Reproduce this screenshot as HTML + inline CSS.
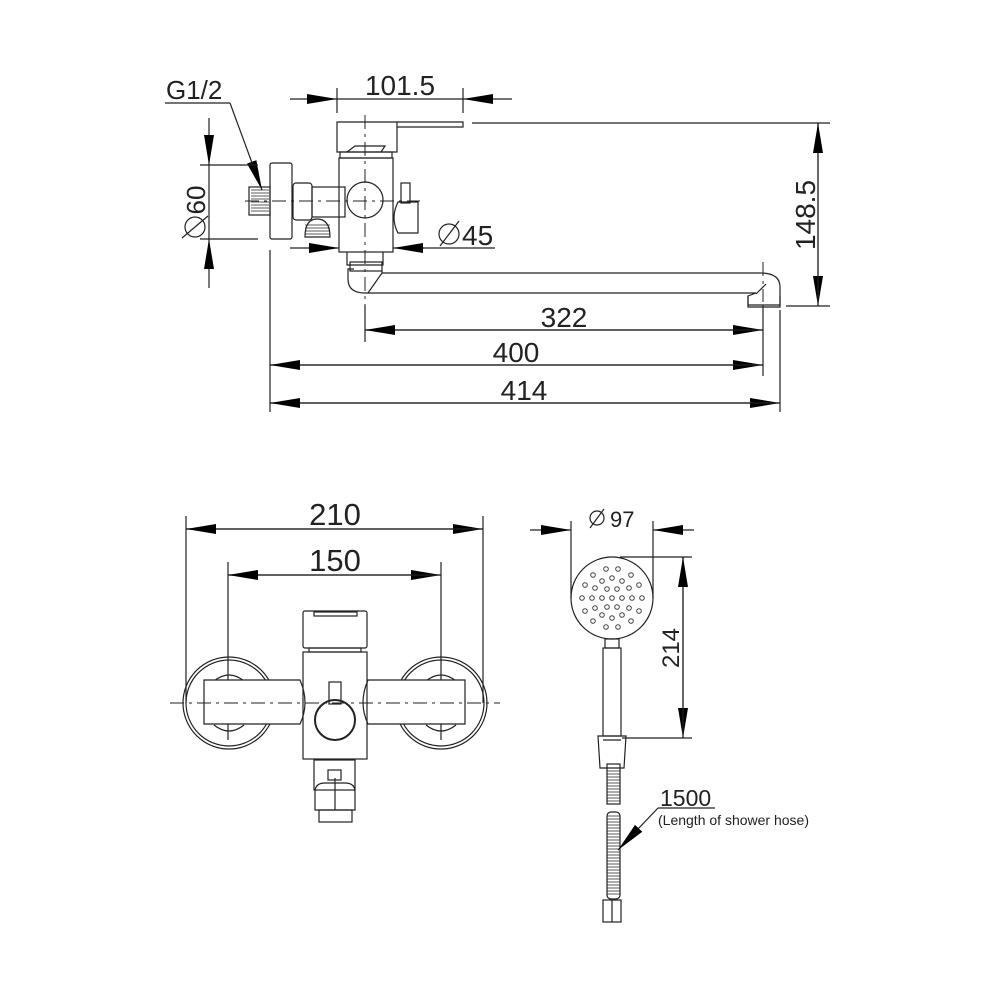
<!DOCTYPE html>
<html><head><meta charset="utf-8"><style>
html,body{margin:0;padding:0;background:#fff}
svg{display:block}
text{font-family:"Liberation Sans",sans-serif;fill:#222}
</style></head><body>
<svg width="1000" height="1000" viewBox="0 0 1000 1000" xmlns="http://www.w3.org/2000/svg">
<defs>
<marker id="a" viewBox="0 0 30 10" refX="30" refY="5" markerWidth="30" markerHeight="10" markerUnits="userSpaceOnUse" orient="auto"><path d="M0,0 L30,5 L0,10 z" fill="#000"/></marker>
</defs>
<g stroke="#222" stroke-width="1.2" fill="none">
<line x1="337" y1="88" x2="337" y2="113"/><line x1="463" y1="88" x2="463" y2="113"/>
<line x1="290" y1="99" x2="337" y2="99" marker-end="url(#a)"/>
<line x1="512" y1="99" x2="463" y2="99" marker-end="url(#a)"/>
<line x1="337" y1="99" x2="463" y2="99"/>
<line x1="165" y1="103" x2="230" y2="103"/>
<line x1="230" y1="103" x2="262" y2="190" marker-end="url(#a)"/>
<line x1="200" y1="165" x2="258" y2="165"/><line x1="200" y1="239" x2="258" y2="239"/>
<line x1="209" y1="118" x2="209" y2="165" marker-end="url(#a)"/>
<line x1="209" y1="288" x2="209" y2="239" marker-end="url(#a)"/>
<line x1="209" y1="165" x2="209" y2="239"/>
<circle cx="195" cy="227" r="10"/><line x1="182" y1="238" x2="208" y2="216"/>
<rect x="270" y="163" width="22" height="76" rx="2"/>
<rect x="249" y="187" width="21" height="28"/>
<g stroke-width="0.8"><path d="M251,190h18M251,193h18M251,196h18M251,199h18M251,202h18M251,205h18M251,208h18M251,211h18"/></g>
<rect x="293" y="183" width="19" height="37" rx="3"/>
<rect x="312" y="187" width="33" height="30"/>
<path d="M305,237 q0,-18 12,-18 q13,0 13,18 z"/>
<g stroke-width="0.8"><path d="M305,225h25M305,228h25M305,231h25M305,234h25"/></g>
<rect x="339" y="158" width="54" height="94"/>
<circle cx="365" cy="200" r="18"/>
<rect x="401" y="183" width="9" height="20"/>
<path d="M398,202 h20 v31 h-20 q-8,-15 0,-31 z"/>
<path d="M337,122 h60 v30 h-60 z"/>
<path d="M397,122 h66 v5 h-66"/>
<path d="M347,152 l8,-6 h30 l-4,6"/>
<rect x="340" y="152" width="52" height="6"/>
<line x1="290" y1="248" x2="339" y2="248" marker-end="url(#a)"/>
<line x1="430" y1="248" x2="393" y2="248" marker-end="url(#a)"/>
<line x1="430" y1="248" x2="495" y2="248"/>
<circle cx="449" cy="234" r="10"/><line x1="440" y1="246" x2="459" y2="221"/>
<path d="M347,252 v13 h36 v-13"/>
<rect x="350" y="262" width="32" height="9"/>
<path d="M382,271 L382,273 H760 q20,0 20,14 v18 h-32 v-9 l8,-3 H365 q-17,0 -17,-14 v-10 h6"/>
<path d="M368,293 L382,273"/>
<path d="M748,296 v11 h32 v-11"/>
<path d="M756,294 l10,-10"/>
<g stroke-dasharray="14,5,3,5" stroke-width="1"><line x1="245" y1="201" x2="420" y2="201"/><line x1="365" y1="115" x2="365" y2="330"/><line x1="763" y1="262" x2="763" y2="302"/></g>
<line x1="270" y1="250" x2="270" y2="412"/>
<line x1="365" y1="305" x2="365" y2="342"/>
<line x1="763" y1="305" x2="763" y2="376"/>
<line x1="780" y1="310" x2="780" y2="412"/>
<line x1="365" y1="330" x2="763" y2="330" marker-end="url(#a)"/><line x1="763" y1="330" x2="365" y2="330" marker-end="url(#a)"/>
<line x1="270" y1="365" x2="763" y2="365" marker-end="url(#a)"/><line x1="763" y1="365" x2="270" y2="365" marker-end="url(#a)"/>
<line x1="270" y1="403" x2="780" y2="403" marker-end="url(#a)"/><line x1="780" y1="403" x2="270" y2="403" marker-end="url(#a)"/>
<line x1="472" y1="123" x2="830" y2="123"/><line x1="786" y1="306" x2="830" y2="306"/>
<line x1="818" y1="123" x2="818" y2="306" marker-end="url(#a)"/><line x1="818" y1="306" x2="818" y2="123" marker-end="url(#a)"/>

<line x1="186" y1="516" x2="186" y2="703"/><line x1="483" y1="516" x2="483" y2="703"/>
<line x1="228" y1="562" x2="228" y2="740"/><line x1="441" y1="562" x2="441" y2="740"/>
<line x1="186" y1="529" x2="483" y2="529" marker-end="url(#a)"/><line x1="483" y1="529" x2="186" y2="529" marker-end="url(#a)"/>
<line x1="228" y1="575" x2="441" y2="575" marker-end="url(#a)"/><line x1="441" y1="575" x2="228" y2="575" marker-end="url(#a)"/>
<circle cx="229" cy="703" r="46"/><circle cx="229" cy="703" r="43"/>
<circle cx="441" cy="703" r="46"/><circle cx="441" cy="703" r="43"/>
<path d="M214,681 q15,-12 30,0 M214,725 q15,12 30,0"/>
<path d="M426,681 q15,-12 30,0 M426,725 q15,12 30,0"/>
<path d="M204,680 h96 q10,23 0,44 h-96 z" fill="#fff"/>
<path d="M368,680 h97 v44 h-97 q-10,-21 0,-44 z" fill="#fff"/>
<rect x="303" y="652" width="64" height="107"/>
<rect x="303" y="611" width="64" height="37" rx="2"/>
<rect x="314" y="612" width="43" height="4"/>
<rect x="309" y="648" width="52" height="4"/>
<rect x="329" y="682" width="12" height="22"/>
<circle cx="335" cy="720" r="20" stroke-width="2"/>
<rect x="314" y="760" width="41" height="30"/>
<rect x="328" y="770" width="13" height="10"/>
<path d="M315,810 v-18 q0,-9 10,-9 h20 q10,0 10,9 v18 z"/>
<rect x="319" y="810" width="33" height="12"/>
<line x1="335" y1="778" x2="335" y2="810"/>
<g stroke-dasharray="14,5,3,5" stroke-width="1"><line x1="170" y1="703" x2="500" y2="703"/></g>

<circle cx="612" cy="598" r="41"/>
<line x1="530" y1="530" x2="571" y2="530" marker-end="url(#a)"/>
<line x1="694" y1="530" x2="653" y2="530" marker-end="url(#a)"/>
<line x1="571" y1="521" x2="571" y2="598"/><line x1="653" y1="521" x2="653" y2="598"/>
<circle cx="597" cy="518" r="7"/><line x1="590" y1="528" x2="604" y2="509"/>
<line x1="620" y1="557" x2="692" y2="557"/><line x1="622" y1="738" x2="692" y2="738"/>
<line x1="683" y1="557" x2="683" y2="738" marker-end="url(#a)"/><line x1="683" y1="738" x2="683" y2="557" marker-end="url(#a)"/>
<rect x="605" y="639" width="14" height="9"/>
<rect x="603" y="648" width="18" height="88"/>
<path d="M598,736 h28 l-2,32 h-24 z"/>
<line x1="603" y1="740" x2="621" y2="740"/>
<rect x="607" y="764" width="13" height="40"/>
<rect x="607" y="812" width="13" height="87" rx="4"/>
<g stroke-width="0.7"><path d="M607,768h13M607,771h13M607,774h13M607,777h13M607,780h13M607,783h13M607,786h13M607,789h13M607,792h13M607,795h13M607,798h13M607,801h13"/>
<path d="M607,816h13M607,819h13M607,822h13M607,825h13M607,828h13M607,831h13M607,834h13M607,837h13M607,840h13M607,843h13M607,846h13M607,849h13M607,852h13M607,855h13M607,858h13M607,861h13M607,864h13M607,867h13M607,870h13M607,873h13M607,876h13M607,879h13M607,882h13M607,885h13M607,888h13M607,891h13M607,894h13"/></g>
<rect x="603" y="900" width="18" height="22"/><line x1="612" y1="900" x2="612" y2="922"/>
<line x1="658" y1="808" x2="715" y2="808"/>
<line x1="658" y1="808" x2="618" y2="850" marker-end="url(#a)"/>
</g>
<g fill="#fff" stroke="#444" stroke-width="1">
<circle cx="612" cy="598" r="2.3"/>
<circle cx="622" cy="598" r="2.3"/><circle cx="617" cy="607" r="2.3"/><circle cx="607" cy="607" r="2.3"/><circle cx="602" cy="598" r="2.3"/><circle cx="607" cy="589" r="2.3"/><circle cx="617" cy="589" r="2.3"/>
<circle cx="632" cy="598" r="2.3"/><circle cx="629" cy="608" r="2.3"/><circle cx="622" cy="615" r="2.3"/><circle cx="612" cy="618" r="2.3"/><circle cx="602" cy="615" r="2.3"/><circle cx="595" cy="608" r="2.3"/><circle cx="592" cy="598" r="2.3"/><circle cx="595" cy="588" r="2.3"/><circle cx="602" cy="581" r="2.3"/><circle cx="612" cy="578" r="2.3"/><circle cx="622" cy="581" r="2.3"/><circle cx="629" cy="588" r="2.3"/>
<circle cx="642" cy="598" r="2.3"/><circle cx="639" cy="611" r="2.3"/><circle cx="631" cy="621" r="2.3"/><circle cx="618" cy="627" r="2.3"/><circle cx="606" cy="627" r="2.3"/><circle cx="593" cy="621" r="2.3"/><circle cx="585" cy="611" r="2.3"/><circle cx="582" cy="598" r="2.3"/><circle cx="585" cy="585" r="2.3"/><circle cx="593" cy="575" r="2.3"/><circle cx="606" cy="569" r="2.3"/><circle cx="618" cy="569" r="2.3"/><circle cx="631" cy="575" r="2.3"/><circle cx="639" cy="585" r="2.3"/>
</g>
<text x="400" y="95" font-size="28" text-anchor="middle">101.5</text>
<text x="166" y="99" font-size="26">G1/2</text>
<text transform="translate(205,200) rotate(-90)" font-size="26" text-anchor="middle">60</text>
<text x="462" y="245" font-size="28">45</text>
<text x="564" y="327" font-size="28" text-anchor="middle">322</text>
<text x="516" y="362" font-size="28" text-anchor="middle">400</text>
<text x="524" y="400" font-size="28" text-anchor="middle">414</text>
<text transform="translate(815,215) rotate(-90)" font-size="28" text-anchor="middle">148.5</text>
<text x="335" y="525" font-size="31" text-anchor="middle">210</text>
<text x="335" y="571" font-size="31" text-anchor="middle">150</text>
<text x="610" y="527" font-size="22">97</text>
<text transform="translate(679,648) rotate(-90)" font-size="24" text-anchor="middle">214</text>
<text x="660" y="806" font-size="23">1500</text>
<text x="658" y="825" font-size="14">(Length of shower hose)</text>
</svg>
</body></html>
